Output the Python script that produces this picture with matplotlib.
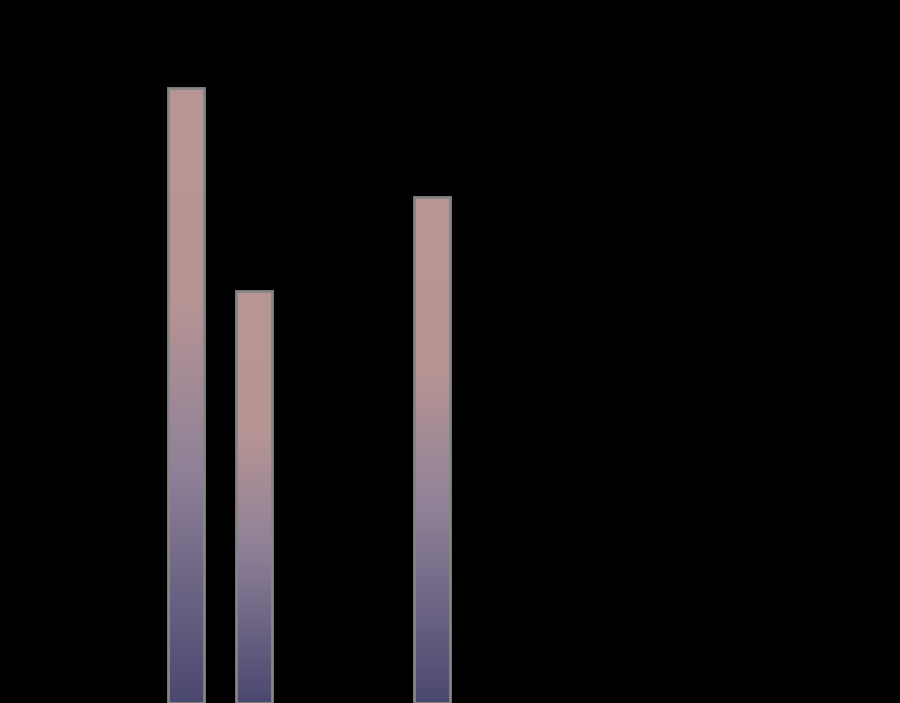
import numpy as np
import matplotlib
matplotlib.use("Agg")
import matplotlib.pyplot as plt
from matplotlib.colors import LinearSegmentedColormap

# Data
groups = ["A", "B"]
series_1 = [60.0, 49.4]
series_2 = [40.2, 0.0]

cmap = LinearSegmentedColormap.from_list(
    "bargrad",
    [(0.0, "#b89696"), (0.35, "#b69494"), (0.62, "#8f8198"), (1.0, "#4b4870")],
)

fig = plt.figure(figsize=(9.0, 7.03), dpi=100, facecolor="black")
ax = fig.add_axes([0, 0, 1, 1])
ax.set_facecolor("black")

x = np.arange(len(groups))
offset = 0.138
width = 0.146

grad = np.linspace(0, 1, 256).reshape(-1, 1)

def draw(xpos, vals):
    bars = ax.bar(xpos, vals, width=width, facecolor="none",
                  edgecolor="#858585", linewidth=2, zorder=3)
    for b, v in zip(bars, vals):
        if v <= 0:
            b.set_visible(False)
            continue
        x0 = b.get_x()
        im = ax.imshow(grad, cmap=cmap, aspect="auto",
                       extent=[x0, x0 + b.get_width(), 0, v],
                       origin="upper", zorder=2, interpolation="bilinear")
        im.set_clip_path(b)

draw(x - offset, series_1)
draw(x + offset, series_2)

ax.set_xlim(-0.894, 2.765)
ax.set_ylim(0, 68.6)
ax.axis("off")

fig.savefig("out.png", dpi=100, facecolor="black")
